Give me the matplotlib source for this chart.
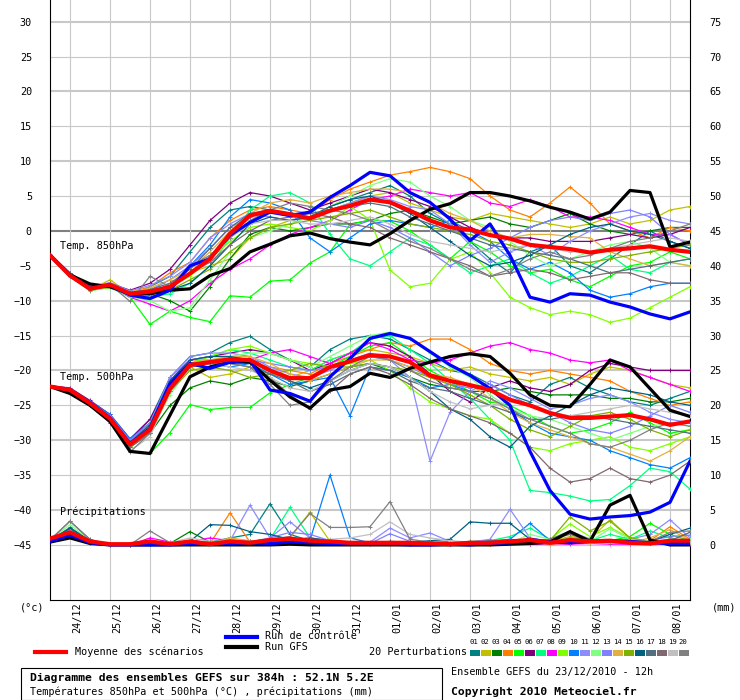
import matplotlib
matplotlib.use('Agg')
import matplotlib.pyplot as plt
from matplotlib.lines import Line2D
from matplotlib.patches import Rectangle

plt.rcParams['font.family'] = ['DejaVu Sans Mono']
plt.rcParams['font.size'] = 7.3

# run of 23/12/2010 12h, one value every 12h up to 384h
hours = list(range(0, 385, 12))
day_labels = ['24/12', '25/12', '26/12', '27/12', '28/12', '29/12', '30/12', '31/12',
              '01/01', '02/01', '03/01', '04/01', '05/01', '06/01', '07/01', '08/01']
member_ids = ['01', '02', '03', '04', '05', '06', '07', '08', '09', '10',
              '11', '12', '13', '14', '15', '16', '17', '18', '19', '20']
member_colors = ['#008080', '#c0c000', '#008000', '#ff8000', '#00ff00', '#800080', '#00ff80',
                 '#ff00ff', '#80ff00', '#0080ff', '#8c8cff', '#80ff80', '#8080ff', '#e0b040',
                 '#80b000', '#006080', '#507080', '#806870', '#c0c0c0', '#808080']
precip_zero = -45  # precipitation (mm) drawn on the temperature scale, 0 mm at -45

# temperature 850hPa (C)
mean_850 = [-3.5, -6.4, -8.3, -7.7, -9.0, -8.7, -8.0, -6.1, -4.0, -0.4, 2.2,
            2.9, 2.4, 1.8, 2.9, 3.6, 4.5, 4.1, 2.9, 1.5, 0.5, 0.2,
            -0.6, -1.1, -2.0, -2.3, -2.6, -3.1, -2.7, -2.5, -2.2, -2.7, -3.0]
ctrl_850 = [-3.5, -6.4, -8.2, -7.8, -9.2, -9.7, -8.5, -5.0, -4.0, -0.6, 1.2,
            2.7, 2.2, 2.7, 4.8, 6.5, 8.4, 7.9, 5.5, 4.1, 1.7, -1.4,
            1.0, -3.5, -9.5, -10.2, -9.0, -9.2, -10.2, -10.9, -11.9, -12.6, -11.6]
gfs_850 = [-3.5, -6.3, -7.6, -8.0, -9.0, -9.0, -8.5, -8.3, -6.4, -5.4, -3.0,
           -1.9, -0.7, -0.3, -1.1, -1.6, -2.0, -0.4, 1.5, 3.1, 3.9, 5.5,
           5.5, 5.0, 4.3, 3.4, 2.7, 1.7, 2.7, 5.8, 5.5, -2.3, -1.6]

# temperature 500hPa (C)
mean_500 = [-22.3, -22.8, -24.7, -26.9, -30.6, -28.5, -22.6, -19.2, -18.8, -18.4, -18.5,
            -20.0, -21.1, -21.1, -19.5, -18.7, -17.8, -18.0, -18.8, -20.7, -21.5, -22.1,
            -22.8, -24.2, -25.0, -26.1, -26.8, -26.8, -26.6, -26.4, -27.0, -27.8, -27.3]
ctrl_500 = [-22.3, -22.8, -24.6, -26.8, -30.5, -28.3, -21.9, -19.0, -19.7, -18.8, -18.5,
            -22.8, -23.3, -24.4, -20.9, -18.3, -15.4, -14.7, -15.4, -17.3, -19.2, -20.7,
            -22.6, -25.0, -31.6, -37.2, -40.6, -41.3, -41.0, -40.8, -40.3, -38.9, -33.0]
gfs_500 = [-22.3, -23.3, -25.0, -27.3, -31.6, -31.9, -26.4, -20.9, -19.5, -18.8, -18.8,
           -21.4, -23.8, -25.4, -22.8, -22.3, -20.4, -21.0, -19.7, -18.8, -18.0, -17.6,
           -18.0, -20.4, -23.5, -25.0, -25.2, -22.0, -18.5, -19.5, -22.6, -25.7, -26.6]

# precipitation (mm)
mean_rr = [0.9, 1.8, 0.5, 0.1, 0.1, 0.5, 0.1, 0.5, 0.1, 0.5, 0.3,
           0.7, 0.9, 0.6, 0.5, 0.3, 0.3, 0.3, 0.3, 0.2, 0.1, 0.3,
           0.3, 0.5, 0.7, 0.3, 0.7, 0.5, 0.6, 0.3, 0.2, 0.6, 0.6]
ctrl_rr = [0.5, 1.4, 0.3, 0.0, 0.0, 0.0, 0.0, 0.1, 0.2, 0.2, 0.3,
           0.2, 0.4, 0.3, 0.2, 0.1, 0.1, 0.1, 0.0, 0.0, 0.1, 0.0,
           0.2, 0.3, 0.8, 0.4, 0.3, 0.5, 0.6, 0.5, 0.3, 0.2, 0.2]
gfs_rr = [0.4, 1.0, 0.2, 0.0, 0.0, 0.0, 0.0, 0.0, 0.0, 0.0, 0.0,
          0.0, 0.1, 0.0, 0.0, 0.0, 0.0, 0.0, 0.0, 0.0, 0.0, 0.0,
          0.0, 0.1, 0.2, 0.4, 1.9, 0.5, 5.7, 7.1, 0.7, 0.0, 0.0]

# 20 perturbations, 850hPa
p01_850 = [-3.4, -6.2, -8.0, -7.6, -9.2, -8.0, -6.5, -3.0, 0.5, 3.0, 3.5,
           3.0, 2.5, 2.0, 3.5, 4.5, 5.5, 6.5, 5.0, 2.5, 1.0, -1.5,
           -4.0, -6.0, -3.0, -2.0, -5.0, -6.0, -4.0, -2.0, 0.0, -1.5, -2.5]
p02_850 = [-3.5, -6.5, -8.5, -7.0, -9.0, -8.5, -8.0, -6.0, -5.0, -4.0, -1.0,
           0.5, 1.5, 2.0, 3.0, 4.0, 5.0, 5.5, 4.0, 3.0, 2.0, 1.5,
           2.5, 2.0, 1.5, 1.0, 0.5, 1.0, 2.0, 1.0, 1.5, 3.0, 3.5]
p03_850 = [-3.6, -6.4, -8.4, -7.8, -9.3, -9.0, -10.0, -11.5, -8.0, -4.0, -0.5,
           0.5, 0.0, 0.5, 1.0, 1.0, 1.5, 2.5, 3.0, 2.0, 1.0, 1.5,
           2.0, 1.0, 0.5, 1.5, 2.5, 1.0, 0.0, -0.5, 0.0, 0.5, 0.5]
p04_850 = [-3.5, -6.3, -8.2, -7.5, -8.8, -8.0, -6.0, -4.5, -1.0, 1.5, 3.0,
           3.5, 3.0, 2.5, 4.5, 6.0, 7.0, 8.0, 8.5, 9.1, 8.5, 7.5,
           5.0, 3.0, 2.0, 4.0, 6.3, 4.0, 1.0, 0.0, -1.0, 0.5, 0.0]
p05_850 = [-3.5, -6.5, -8.6, -8.0, -9.5, -13.4, -11.5, -12.4, -13.0, -9.3, -9.5,
           -7.2, -7.0, -4.6, -3.0, 0.9, 1.6, 1.4, 0.0, -2.0, -4.0, -1.5,
           -3.0, -5.0, -6.0, -5.5, -7.0, -8.0, -6.5, -5.0, -4.5, -3.0, -4.0]
p06_850 = [-3.4, -6.0, -8.0, -7.5, -8.5, -7.5, -5.5, -2.0, 1.5, 4.0, 5.5,
           5.0, 4.0, 3.0, 4.0, 5.0, 6.0, 5.5, 4.5, 3.5, 2.0, 0.5,
           -0.5, -1.0, -1.0, -1.5, -1.5, -1.5, -1.0, -0.5, -1.0, -0.5, 0.5]
p07_850 = [-3.5, -6.4, -8.3, -7.9, -9.1, -9.5, -9.0, -7.5, -5.0, -1.0, 3.0,
           5.0, 5.5, 4.0, -0.5, -4.0, -5.0, -3.0, -1.0, -2.0, -4.0, -6.0,
           -5.0, -4.0, -6.0, -7.5, -6.5, -5.0, -3.5, -5.5, -6.0, -4.5, -4.0]
p08_850 = [-3.5, -6.5, -8.4, -8.0, -9.5, -10.5, -11.5, -10.0, -7.5, -5.5, -4.0,
           -2.0, -0.5, 0.5, 1.5, 3.0, 4.5, 5.0, 6.0, 5.5, 5.0, 5.5,
           4.0, 3.5, 4.5, 3.5, 2.0, 2.0, 1.5, 0.5, -0.5, -0.5, -2.0]
p09_850 = [-3.5, -6.4, -8.2, -7.8, -9.0, -9.0, -8.0, -6.5, -4.0, -1.5, 0.5,
           1.0, 0.5, 0.0, 1.5, 3.5, 1.6, -5.6, -8.0, -7.5, -4.1, -3.0,
           -6.0, -9.5, -11.0, -12.0, -11.5, -12.0, -13.1, -12.5, -11.0, -9.5, -8.0]
p10_850 = [-3.5, -6.4, -8.3, -7.9, -9.0, -9.5, -8.5, -5.0, -2.0, 2.0, 4.5,
           4.0, 3.0, -1.0, -3.0, -1.0, 1.0, 1.5, 1.0, 0.5, 1.5, 0.0,
           -1.5, -4.0, -5.5, -4.5, -6.0, -8.5, -9.5, -9.0, -8.0, -7.5, -7.5]
p11_850 = [-3.3, -6.0, -8.0, -7.4, -8.6, -7.8, -6.5, -4.5, -1.0, 1.0, 2.5,
           2.0, 1.5, 2.0, 3.0, 4.0, 5.0, 4.5, 3.5, 3.0, 1.0, -2.0,
           -4.5, -3.0, -2.0, -3.5, -1.5, 0.0, 1.0, 2.0, 2.5, 1.5, 1.0]
p12_850 = [-3.6, -6.6, -8.5, -8.2, -9.4, -10.0, -11.5, -11.0, -7.0, -3.0, -1.0,
           0.0, 1.0, 2.0, 3.5, 5.0, 6.5, 7.5, 7.0, 5.0, 3.5, 1.5,
           0.5, -1.5, -3.5, -5.0, -4.0, -3.0, -2.0, -1.5, -2.5, -4.5, -5.0]
p13_850 = [-3.4, -6.2, -8.1, -7.7, -8.9, -8.5, -7.0, -5.0, -2.5, 0.5, 2.0,
           3.0, 2.0, 1.5, 1.0, 0.5, 1.5, 0.5, -1.0, -3.0, -5.0, -3.5,
           -2.5, -1.0, 0.5, 1.5, 2.0, 1.5, 2.5, 3.0, 2.0, -0.5, -2.0]
p14_850 = [-3.5, -6.3, -8.2, -7.6, -8.8, -8.2, -7.0, -5.5, -3.0, 0.0, 2.5,
           4.0, 4.5, 4.0, 5.0, 5.5, 6.0, 6.0, 5.5, 4.0, 2.5, 1.5,
           0.0, -1.0, -0.5, -0.5, -0.8, -1.0, -3.0, -4.0, -5.0, -4.5, -5.0]
p15_850 = [-3.5, -6.5, -8.4, -8.1, -9.2, -9.0, -8.5, -7.0, -5.5, -3.0, -1.0,
           0.5, 1.0, 1.5, 2.0, 2.5, 3.0, 2.0, 1.0, 0.5, 0.0, -0.5,
           -1.5, -2.0, -3.0, -4.0, -4.5, -4.5, -4.0, -3.5, -3.0, -2.5, -2.0]
p16_850 = [-3.5, -6.4, -8.3, -7.8, -9.0, -8.8, -8.5, -7.5, -5.0, -2.0, 1.0,
           2.0, 1.5, 2.0, 3.5, 4.5, 5.0, 4.0, 2.5, 0.5, -1.5, -3.5,
           -5.0, -4.5, -3.5, -2.0, -0.5, 0.5, 1.0, 0.0, -0.5, -1.5, -2.5]
p17_850 = [-3.4, -6.1, -8.0, -7.6, -8.8, -8.4, -7.5, -5.5, -2.5, 0.5, 2.5,
           3.0, 2.5, 2.5, 3.0, 3.5, 4.0, 3.5, 2.0, 1.0, 0.0, -1.0,
           -2.0, -2.5, -3.0, -3.5, -4.0, -5.0, -6.0, -5.5, -5.0, -4.5, -4.0]
p18_850 = [-3.5, -6.3, -8.2, -7.7, -9.0, -9.2, -7.5, -6.0, -4.5, -2.0, 0.0,
           1.5, 2.0, 2.5, 2.0, 1.0, 0.5, -1.0, -2.0, -3.0, -4.0, -5.0,
           -6.5, -6.0, -5.5, -6.0, -7.0, -6.5, -6.0, -6.0, -7.0, -7.5, -7.5]
p19_850 = [-3.5, -6.4, -8.3, -7.8, -9.1, -9.0, -8.0, -6.0, -3.5, -1.0, 1.0,
           1.5, 1.5, 1.0, 1.0, 1.5, 2.0, 1.0, -0.5, -1.5, -2.0, -2.5,
           -3.0, -2.5, -2.0, -2.5, -3.0, -3.0, -2.5, -2.0, -1.5, -1.0, -1.5]
p20_850 = [-3.5, -6.5, -8.4, -7.7, -10.1, -6.5, -8.0, -5.0, -3.5, -1.0, 1.5,
           3.0, 4.0, 3.5, 3.0, 2.5, 1.5, 0.0, -1.5, -2.5, -4.0, -5.5,
           -6.5, -5.5, -4.0, -3.0, -4.0, -3.5, -2.5, -1.5, -1.0, 0.0, 1.0]

# 20 perturbations, 500hPa
p01_500 = [-22.2, -22.6, -24.5, -26.5, -30.0, -27.0, -21.0, -18.0, -17.5, -16.0, -15.1,
           -17.0, -18.5, -19.5, -17.0, -15.5, -15.0, -15.5, -17.0, -18.5, -20.0, -20.5,
           -22.0, -23.5, -24.5, -22.0, -21.0, -22.5, -23.5, -24.5, -25.0, -24.0, -23.0]
p02_500 = [-22.3, -22.9, -24.8, -27.0, -30.8, -28.0, -22.0, -19.5, -21.0, -20.5, -19.5,
           -20.5, -21.0, -20.0, -18.5, -17.5, -17.0, -17.5, -18.0, -19.0, -20.0, -19.5,
           -20.5, -21.0, -21.5, -21.0, -22.0, -20.5, -19.5, -20.0, -21.0, -22.0, -22.5]
p03_500 = [-22.3, -22.8, -24.8, -27.0, -31.0, -29.0, -25.0, -22.5, -21.5, -22.0, -21.0,
           -21.5, -22.3, -21.5, -20.5, -19.5, -19.0, -20.0, -21.0, -22.0, -22.5, -23.0,
           -23.0, -22.5, -23.0, -23.5, -23.5, -23.5, -24.0, -24.0, -24.5, -24.5, -24.0]
p04_500 = [-22.4, -22.7, -24.6, -26.6, -30.2, -27.5, -21.5, -18.5, -18.5, -18.5, -19.0,
           -19.5, -20.0, -20.5, -19.0, -18.0, -17.0, -16.0, -16.5, -15.5, -15.5, -17.0,
           -19.0, -20.0, -20.5, -20.0, -20.5, -21.0, -21.5, -23.0, -24.0, -25.0, -24.5]
p05_500 = [-22.4, -23.0, -25.0, -27.5, -31.5, -31.9, -28.9, -24.9, -25.6, -25.3, -25.3,
           -23.2, -22.0, -21.0, -19.5, -18.0, -16.5, -16.0, -18.0, -20.0, -21.5, -23.0,
           -24.5, -25.0, -26.5, -28.0, -29.0, -28.5, -27.5, -26.0, -27.5, -29.0, -28.5]
p06_500 = [-22.2, -22.5, -24.3, -26.3, -29.8, -27.0, -21.5, -18.5, -18.0, -17.5, -17.0,
           -17.5, -18.5, -20.0, -19.0, -17.5, -16.0, -16.5, -18.0, -20.5, -23.0, -24.5,
           -22.5, -21.5, -22.5, -23.0, -22.0, -20.0, -19.0, -19.5, -20.0, -20.0, -20.0]
p07_500 = [-22.3, -22.8, -24.6, -26.8, -30.3, -28.0, -22.0, -19.0, -18.0, -17.0, -17.5,
           -18.5, -19.5, -20.0, -18.5, -17.5, -15.5, -15.0, -17.0, -19.0, -21.5, -24.0,
           -27.0, -30.0, -37.2, -37.5, -38.0, -38.7, -38.5, -36.5, -34.0, -34.5, -37.0]
p08_500 = [-22.3, -22.9, -24.9, -27.5, -30.5, -28.5, -22.5, -19.5, -19.0, -18.5, -18.5,
           -17.5, -17.0, -18.0, -19.0, -17.5, -16.0, -17.0, -18.5, -19.0, -18.5, -17.5,
           -16.5, -16.0, -17.0, -17.5, -18.5, -18.9, -18.5, -20.0, -21.0, -22.0, -23.0]
p09_500 = [-22.3, -22.8, -24.7, -26.9, -30.4, -28.3, -22.5, -19.0, -18.0, -17.0, -16.5,
           -17.5, -18.5, -19.0, -19.5, -19.0, -18.5, -20.0, -22.5, -24.5, -25.5, -26.5,
           -27.0, -29.0, -31.0, -31.5, -30.5, -30.0, -29.5, -31.0, -31.5, -30.5, -29.5]
p10_500 = [-22.2, -22.6, -24.4, -26.3, -29.8, -27.5, -21.5, -19.0, -19.0, -19.5, -19.0,
           -20.5, -22.0, -21.5, -21.0, -26.5, -19.5, -20.0, -21.0, -22.5, -22.0, -23.0,
           -24.0, -25.5, -27.5, -29.0, -29.5, -30.0, -31.5, -32.5, -33.5, -34.0, -32.5]
p11_500 = [-22.3, -22.7, -24.6, -26.7, -30.2, -27.8, -21.0, -18.0, -17.5, -17.5, -18.0,
           -19.5, -20.5, -21.0, -20.0, -18.5, -17.5, -18.5, -21.0, -33.0, -26.0, -23.0,
           -21.5, -22.5, -24.0, -25.5, -25.0, -24.0, -23.5, -24.5, -26.0, -27.0, -27.5]
p12_500 = [-22.4, -22.9, -24.8, -27.1, -30.8, -29.0, -23.5, -19.5, -18.5, -18.0, -17.5,
           -17.5, -18.5, -19.5, -18.0, -16.5, -15.0, -14.5, -15.5, -17.5, -19.5, -21.0,
           -23.5, -25.5, -26.5, -27.0, -28.0, -29.0, -30.0, -29.0, -28.0, -27.5, -28.0]
p13_500 = [-22.3, -22.8, -24.5, -26.5, -30.0, -27.5, -21.0, -18.5, -18.0, -18.0, -18.5,
           -19.0, -19.5, -20.0, -19.5, -18.5, -18.0, -18.5, -19.5, -21.0, -22.0, -22.5,
           -22.0, -23.5, -25.0, -26.0, -27.5, -28.5, -29.0, -28.0, -26.5, -25.0, -26.0]
p14_500 = [-22.3, -22.8, -24.7, -27.0, -30.5, -28.0, -22.0, -19.0, -18.5, -18.0, -18.0,
           -19.0, -20.5, -21.5, -20.5, -19.5, -18.5, -18.5, -19.5, -20.5, -21.0, -22.0,
           -24.0, -26.0, -27.5, -28.5, -29.5, -30.5, -31.0, -32.0, -33.0, -31.5, -29.5]
p15_500 = [-22.3, -22.9, -24.8, -27.0, -30.7, -28.5, -23.0, -20.0, -19.5, -20.0, -21.0,
           -20.5, -20.0, -19.0, -19.5, -19.5, -19.0, -19.5, -20.0, -21.0, -22.0, -23.5,
           -25.0, -27.0, -28.5, -29.5, -28.0, -26.5, -26.0, -27.0, -28.5, -29.5, -28.5]
p16_500 = [-22.2, -22.7, -24.6, -26.8, -30.3, -27.8, -21.5, -18.5, -18.0, -18.0, -18.5,
           -20.0, -21.5, -22.5, -21.5, -20.0, -19.0, -19.5, -21.0, -23.0, -25.5, -27.0,
           -29.5, -31.0, -28.0, -26.5, -25.0, -23.5, -22.5, -23.0, -23.5, -24.5, -25.0]
p17_500 = [-22.3, -22.8, -24.7, -26.9, -30.5, -28.5, -22.5, -19.5, -19.0, -19.0, -19.5,
           -20.5, -21.5, -23.0, -22.0, -20.5, -19.5, -20.0, -21.5, -22.5, -23.0, -24.0,
           -25.0, -26.0, -27.0, -27.0, -26.5, -26.5, -27.0, -27.5, -28.0, -28.5, -29.0]
p18_500 = [-22.3, -22.9, -24.9, -27.3, -31.0, -29.0, -23.0, -19.5, -19.0, -18.5, -19.0,
           -21.0, -23.5, -25.5, -23.0, -20.5, -19.5, -20.5, -22.0, -24.0, -25.5, -26.5,
           -27.5, -29.0, -31.0, -34.0, -36.0, -35.5, -34.0, -35.5, -36.0, -35.0, -33.0]
p19_500 = [-22.3, -22.8, -24.8, -27.2, -31.5, -29.5, -23.0, -19.5, -19.0, -19.5, -20.0,
           -21.0, -22.5, -23.0, -21.5, -20.0, -19.0, -19.5, -21.0, -23.0, -24.5, -25.5,
           -25.0, -24.5, -25.0, -26.0, -26.5, -26.0, -25.5, -25.0, -25.5, -26.0, -26.5]
p20_500 = [-22.3, -22.8, -24.7, -27.0, -31.7, -29.0, -23.0, -19.5, -19.0, -19.0, -19.5,
           -22.0, -25.0, -24.5, -21.5, -19.5, -18.0, -18.5, -20.0, -21.5, -22.5, -23.0,
           -24.0, -25.5, -27.0, -28.0, -29.0, -30.5, -31.0, -30.0, -28.5, -27.5, -28.0]

# 20 perturbations, precipitation (mm)
p01_rr = [0.6, 2.5, 0.6, 0.1, 0.0, 0.3, 0.1, 0.2, 0.4, 1.0, 1.5,
          5.9, 1.5, 0.6, 0.3, 0.2, 0.3, 0.2, 0.3, 0.2, 0.1, 0.4,
          0.3, 0.8, 0.4, 0.3, 0.5, 0.4, 0.2, 0.3, 0.2, 0.3, 0.5]
p02_rr = [0.8, 1.8, 0.4, 0.0, 0.0, 0.2, 0.1, 0.3, 0.2, 0.8, 0.5,
          0.6, 1.0, 4.7, 0.5, 0.3, 0.2, 0.4, 0.2, 0.2, 0.3, 0.2,
          0.1, 0.3, 0.2, 0.5, 1.2, 0.8, 3.6, 1.0, 0.3, 0.2, 0.3]
p03_rr = [0.5, 2.2, 0.5, 0.0, 0.0, 0.1, 0.2, 1.9, 0.4, 0.3, 0.2,
          0.5, 0.4, 0.6, 0.3, 0.2, 0.2, 0.3, 0.1, 0.2, 0.2, 0.3,
          0.2, 0.2, 0.4, 0.3, 0.2, 0.4, 0.5, 0.3, 0.2, 0.6, 0.8]
p04_rr = [0.7, 1.9, 0.4, 0.0, 0.0, 0.2, 0.1, 0.3, 0.2, 4.6, 0.4,
          0.3, 0.5, 0.4, 0.6, 0.3, 0.2, 0.1, 0.2, 0.1, 0.3, 0.2,
          0.1, 0.2, 0.3, 0.1, 0.2, 0.3, 0.2, 0.4, 0.6, 2.6, 0.8]
p05_rr = [0.4, 1.5, 0.3, 0.0, 0.0, 0.1, 0.2, 0.4, 0.5, 0.3, 0.2,
          0.3, 0.6, 0.5, 0.3, 0.2, 0.3, 0.2, 0.2, 0.1, 0.2, 0.3,
          0.4, 0.6, 0.5, 0.3, 1.0, 0.8, 0.6, 1.2, 3.1, 1.5, 0.6]
p06_rr = [0.6, 2.0, 0.5, 0.0, 0.0, 0.4, 0.2, 0.3, 0.4, 0.2, 0.3,
          0.2, 0.5, 0.4, 0.3, 0.2, 0.2, 0.3, 0.2, 0.1, 0.2, 0.2,
          0.3, 0.2, 0.1, 0.2, 0.3, 0.2, 0.3, 0.2, 0.3, 0.4, 0.2]
p07_rr = [0.5, 1.7, 0.4, 0.0, 0.0, 0.2, 0.3, 0.5, 0.3, 0.4, 0.5,
          0.8, 5.4, 1.0, 0.5, 0.3, 0.2, 0.4, 0.3, 0.2, 0.3, 0.5,
          0.6, 1.2, 2.4, 0.8, 0.5, 0.6, 1.5, 0.8, 2.0, 1.0, 0.4]
p08_rr = [0.8, 2.0, 0.5, 0.0, 0.0, 1.0, 0.4, 0.5, 1.0, 0.6, 0.5,
          0.4, 0.3, 0.5, 0.3, 0.2, 0.1, 0.2, 0.2, 0.1, 0.1, 0.2,
          0.1, 0.2, 0.1, 0.2, 0.1, 0.2, 0.1, 0.1, 0.2, 0.1, 0.1]
p09_rr = [0.6, 1.6, 0.4, 0.0, 0.0, 0.2, 0.3, 0.4, 0.3, 0.5, 0.3,
          0.4, 0.6, 0.5, 0.3, 0.2, 0.2, 0.3, 0.2, 0.3, 0.5, 0.4,
          0.6, 0.3, 0.5, 0.8, 3.0, 1.2, 2.5, 1.0, 0.5, 0.8, 0.4]
p10_rr = [0.4, 1.4, 0.3, 0.0, 0.0, 0.1, 0.2, 0.3, 0.2, 0.4, 0.3,
          0.6, 0.8, 0.7, 10.0, 1.0, 0.3, 0.4, 0.2, 0.3, 0.5, 0.4,
          0.6, 0.8, 3.1, 0.6, 0.3, 0.2, 0.3, 0.4, 0.2, 0.3, 0.2]
p11_rr = [0.5, 1.8, 0.5, 0.0, 0.0, 0.3, 0.2, 0.4, 0.3, 0.6, 5.7,
          1.0, 3.3, 1.0, 0.6, 0.3, 0.4, 2.4, 1.0, 1.7, 0.5, 0.4,
          0.8, 5.1, 1.0, 0.5, 0.4, 0.3, 0.6, 0.8, 1.5, 3.6, 1.0]
p12_rr = [0.7, 2.9, 0.6, 0.0, 0.0, 0.2, 0.3, 0.4, 0.3, 0.5, 0.4,
          0.5, 0.8, 0.6, 0.4, 0.3, 0.2, 0.3, 0.2, 0.4, 0.3, 0.5,
          0.4, 0.3, 1.5, 0.8, 0.6, 0.5, 2.3, 0.8, 0.5, 0.6, 0.8]
p13_rr = [0.6, 2.1, 0.4, 0.0, 0.0, 0.2, 0.3, 0.4, 0.3, 0.5, 0.4,
          1.0, 1.8, 1.5, 0.6, 0.3, 0.2, 1.6, 0.5, 0.3, 0.2, 0.3,
          0.2, 0.6, 0.4, 0.3, 0.5, 0.4, 0.3, 0.5, 0.6, 1.2, 1.4]
p14_rr = [0.5, 1.7, 0.4, 0.0, 0.0, 0.2, 0.1, 0.3, 0.2, 1.0, 0.6,
          0.4, 0.3, 0.5, 0.3, 0.2, 0.1, 0.2, 0.1, 0.2, 0.3, 0.2,
          0.1, 0.2, 0.3, 0.2, 0.4, 0.3, 0.2, 0.3, 1.0, 2.2, 0.6]
p15_rr = [0.6, 1.9, 0.5, 0.0, 0.0, 0.3, 0.2, 0.4, 0.3, 0.4, 0.3,
          0.5, 0.7, 0.6, 0.4, 0.3, 0.2, 0.3, 0.2, 0.3, 0.4, 0.3,
          0.5, 0.4, 0.3, 0.6, 4.0, 2.0, 3.4, 1.0, 0.5, 0.4, 0.3]
p16_rr = [0.6, 2.4, 0.6, 0.0, 0.0, 0.2, 0.3, 0.5, 2.9, 2.8, 1.9,
          1.5, 0.8, 1.0, 0.6, 0.4, 0.3, 0.5, 0.4, 0.6, 0.8, 3.3,
          3.1, 3.1, 0.8, 0.5, 0.6, 0.5, 0.4, 0.3, 0.5, 1.5, 2.4]
p17_rr = [0.7, 3.4, 0.8, 0.0, 0.0, 0.3, 0.2, 0.4, 0.3, 0.5, 0.4,
          0.6, 0.8, 0.7, 0.5, 0.4, 0.3, 0.4, 0.3, 0.2, 0.3, 0.4,
          0.5, 0.6, 0.5, 0.8, 2.0, 0.8, 0.6, 0.5, 0.4, 0.6, 1.8]
p18_rr = [0.5, 1.6, 0.4, 0.0, 0.0, 0.2, 0.1, 0.3, 0.2, 0.3, 0.2,
          0.4, 0.5, 0.8, 0.6, 0.3, 0.2, 0.3, 0.2, 0.1, 0.2, 0.3,
          0.2, 0.4, 0.5, 0.8, 1.5, 0.6, 0.4, 0.3, 0.2, 0.3, 0.4]
p19_rr = [0.6, 2.0, 0.5, 0.0, 0.0, 0.4, 0.3, 1.0, 0.5, 0.6, 0.5,
          0.6, 0.8, 0.6, 0.8, 1.0, 1.5, 3.3, 1.5, 1.0, 0.6, 0.4,
          0.3, 0.5, 0.4, 0.3, 0.4, 0.6, 0.5, 0.3, 0.6, 0.5, 0.4]
p20_rr = [0.7, 3.4, 0.7, 0.0, 0.0, 2.0, 0.3, 0.5, 0.4, 0.6, 0.5,
          0.8, 1.2, 4.5, 2.5, 2.5, 2.6, 6.2, 0.8, 0.4, 0.3, 0.5,
          0.4, 0.6, 0.5, 0.4, 0.5, 0.8, 0.6, 0.4, 0.5, 1.8, 2.0]

members_850 = [p01_850, p02_850, p03_850, p04_850, p05_850, p06_850, p07_850, p08_850, p09_850, p10_850,
               p11_850, p12_850, p13_850, p14_850, p15_850, p16_850, p17_850, p18_850, p19_850, p20_850]
members_500 = [p01_500, p02_500, p03_500, p04_500, p05_500, p06_500, p07_500, p08_500, p09_500, p10_500,
               p11_500, p12_500, p13_500, p14_500, p15_500, p16_500, p17_500, p18_500, p19_500, p20_500]
members_rr = [p01_rr, p02_rr, p03_rr, p04_rr, p05_rr, p06_rr, p07_rr, p08_rr, p09_rr, p10_rr,
              p11_rr, p12_rr, p13_rr, p14_rr, p15_rr, p16_rr, p17_rr, p18_rr, p19_rr, p20_rr]

W, H = 740, 700


def fx(px):
    return px / W


def fy(py):
    return 1 - py / H


def draw_grid(ax):
    for v in range(-45, 31, 5):
        if v == 0:
            ax.axhline(v, color='#808080', lw=1.5, zorder=0)
        elif v % 10 == 0:
            ax.axhline(v, color='#c8c8c8', lw=1.5, zorder=0)
        else:
            ax.axhline(v, color='#c8c8c8', lw=0.8, zorder=0)
    for k in range(len(day_labels)):
        ax.axvline(12 + 24 * k, color='#c8c8c8', lw=0.8, zorder=0)


def draw_series(ax):
    for t850, t500, rr, c in zip(members_850, members_500, members_rr, member_colors):
        for vals in (t850, t500, [precip_zero + r for r in rr]):
            ax.plot(hours, vals, color=c, lw=0.9, marker='+', ms=3, mew=0.7, zorder=2)
    for vals in (gfs_850, gfs_500, [precip_zero + r for r in gfs_rr]):
        ax.plot(hours, vals, color='black', lw=2.3, zorder=3, solid_joinstyle='round')
    for vals in (ctrl_850, ctrl_500, [precip_zero + r for r in ctrl_rr]):
        ax.plot(hours, vals, color='#0000ff', lw=2.3, zorder=4, solid_joinstyle='round')
    for vals in (mean_850, mean_500, [precip_zero + r for r in mean_rr]):
        ax.plot(hours, vals, color='#ff0000', lw=3.0, zorder=5, solid_joinstyle='round')


def draw_legend(fig):
    fig.add_artist(Line2D([fx(35), fx(66)], [fy(652), fy(652)], color='#ff0000', lw=3.0))
    fig.text(fx(75), fy(652), 'Moyenne des scénarios', va='center', ha='left')
    fig.add_artist(Line2D([fx(226), fx(257)], [fy(637), fy(637)], color='#0000ff', lw=3.0))
    fig.add_artist(Line2D([fx(226), fx(257)], [fy(647), fy(647)], color='black', lw=3.0))
    fig.text(fx(265), fy(636), 'Run de contrôle', va='center', ha='left')
    fig.text(fx(265), fy(647), 'Run GFS', va='center', ha='left')
    fig.text(fx(467), fy(652), '20 Perturbations', va='center', ha='right')
    for k, (num, c) in enumerate(zip(member_ids, member_colors)):
        x0 = 470 + 11 * k
        fig.add_artist(Rectangle((fx(x0), fy(655.5)), 10 / W, 5.5 / H, facecolor=c,
                                 edgecolor='none', transform=fig.transFigure))
        fig.text(fx(x0 + 4), fy(642), num, va='center', ha='center', fontsize=5.2)

    fig.add_artist(Rectangle((fx(20.5), fy(699.5)), 421 / W, 32 / H, facecolor='none',
                             edgecolor='black', lw=0.8, transform=fig.transFigure))
    fig.text(fx(30), fy(677.5), 'Diagramme des ensembles GEFS sur 384h : 52.1N 5.2E',
             va='center', ha='left', fontsize=8.2, fontweight='bold')
    fig.text(fx(30), fy(692), 'Températures 850hPa et 500hPa (°C) , précipitations (mm)',
             va='center', ha='left')
    fig.text(fx(451), fy(672), 'Ensemble GEFS du 23/12/2010 - 12h', va='center', ha='left')
    fig.text(fx(451), fy(692), 'Copyright 2010 Meteociel.fr', va='center', ha='left',
             fontsize=8.2, fontweight='bold')


def make_chart():
    for s in members_850 + members_500 + members_rr:
        assert len(s) == len(hours)

    fig = plt.figure(figsize=(W / 100, H / 100), dpi=100)
    ax = fig.add_axes([fx(50), fy(600), 640 / W, 600 / H])
    ax.set_xlim(0, 384)
    ax.set_ylim(-52.9, 33.1)

    draw_grid(ax)
    draw_series(ax)

    ax.set_xticks([])
    ax.set_yticks(list(range(-45, 31, 5)))
    ax.tick_params(axis='y', length=0, pad=13)
    ax.spines['top'].set_visible(False)
    ax.spines['right'].set_visible(False)
    for side in ('left', 'bottom'):
        ax.spines[side].set_linewidth(0.8)

    right = ax.secondary_yaxis('right', functions=(lambda v: v + 45, lambda v: v - 45))
    right.set_yticks(list(range(0, 76, 5)))
    right.tick_params(length=0, pad=14)
    right.spines['right'].set_linewidth(0.8)

    for k, lab in enumerate(day_labels):
        ax.text(12 + 24 * k + 4.5, -0.004, lab, transform=ax.get_xaxis_transform(),
                rotation=90, ha='center', va='top')

    ax.text(6, -2.1, 'Temp. 850hPa', va='center', ha='left', zorder=6)
    ax.text(6, -21.0, 'Temp. 500hPa', va='center', ha='left', zorder=6)
    ax.text(6, -40.3, 'Précipitations', va='center', ha='left', zorder=6)

    fig.text(fx(20), fy(607), '(°c)', va='center', ha='left')
    fig.text(fx(712), fy(607), '(mm)', va='center', ha='left')

    draw_legend(fig)
    fig.savefig('out.png', dpi=100)


if __name__ == "__main__":
    make_chart()
